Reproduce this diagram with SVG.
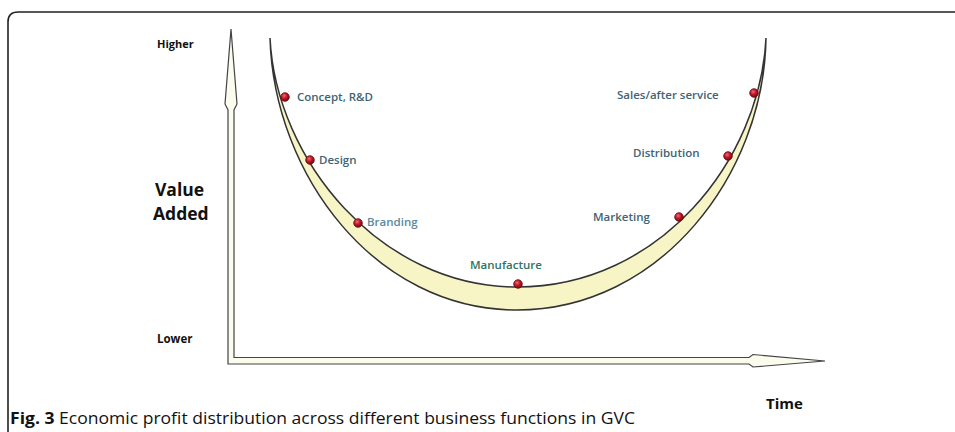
<svg xmlns="http://www.w3.org/2000/svg" width="955" height="432" viewBox="0 0 955 432">
<style>
.lbl{font-family:"Open Sans","Liberation Sans",sans-serif;font-weight:600;font-size:11.5px;fill:#3d6474}
.axis{font-family:"Open Sans","Liberation Sans",sans-serif;font-weight:700;fill:#111}
.cap{font-family:"Open Sans","Liberation Sans",sans-serif;font-size:16.5px;fill:#111}
.dot{fill:url(#ball);stroke:#6a0a12;stroke-width:0.8}
</style>
<defs>
<radialGradient id="ball" cx="0.4" cy="0.35" r="0.65">
<stop offset="0" stop-color="#f06a74"/>
<stop offset="0.5" stop-color="#c01828"/>
<stop offset="1" stop-color="#7a0612"/>
</radialGradient>
</defs>
<rect width="955" height="432" fill="#fff"/>
<path d="M8,432 V22 Q8,12 18,12 H955" fill="none" stroke="#222" stroke-width="1.6"/>
<g id="connectors">
<path id="axes" d="M231,29 L237,104 L234,110 L234,357.5 L749,357.5 L753,354.5 L825,361 L753,367 L749,364 L228,364 L228,110 L225,104 Z" fill="#fbfbee" stroke="#444" stroke-width="1.2" stroke-linejoin="miter"/>
</g>
<g id="curve">
<path d="M270,38 C274,175 375,310 517,310 C660,310 764,175 766,38 C760,160 660,287 517,287 C380,287 276,160 270,38 Z" fill="#f7f5c6" stroke="#333" stroke-width="1.5"/>
</g>
<g id="axis-labels">
<text class="axis" x="157" y="48" font-size="11">Higher</text>
<text class="axis" x="155" y="196" font-size="17.5">Value</text>
<text class="axis" x="153" y="220" font-size="17.5">Added</text>
<text class="axis" x="157" y="343" font-size="11.5">Lower</text>
<text class="axis" x="766" y="409" font-size="15">Time</text>
</g>
<g id="concept"><circle class="dot" cx="285" cy="97" r="4.3"/><text class="lbl" x="297" y="101">Concept, R&amp;D</text></g>
<g id="design"><circle class="dot" cx="310" cy="160" r="4.3"/><text class="lbl" x="319" y="164">Design</text></g>
<g id="branding"><circle class="dot" cx="358" cy="223" r="4.3"/><text class="lbl" x="367" y="226" style="fill:#5a89a0">Branding</text></g>
<g id="manufacture"><circle class="dot" cx="518" cy="284" r="4.3"/><text class="lbl" x="470" y="269" style="fill:#2e7560">Manufacture</text></g>
<g id="marketing"><circle class="dot" cx="679" cy="217" r="4.3"/><text class="lbl" x="593" y="221">Marketing</text></g>
<g id="distribution"><circle class="dot" cx="728" cy="156" r="4.3"/><text class="lbl" x="633" y="157">Distribution</text></g>
<g id="sales"><circle class="dot" cx="754" cy="93" r="4.3"/><text class="lbl" x="617" y="99">Sales/after service</text></g>
<g id="caption">
<text class="cap" x="10" y="424" textLength="625" lengthAdjust="spacingAndGlyphs"><tspan font-weight="700">Fig. 3</tspan> Economic profit distribution across different business functions in GVC</text>
</g>
</svg>
